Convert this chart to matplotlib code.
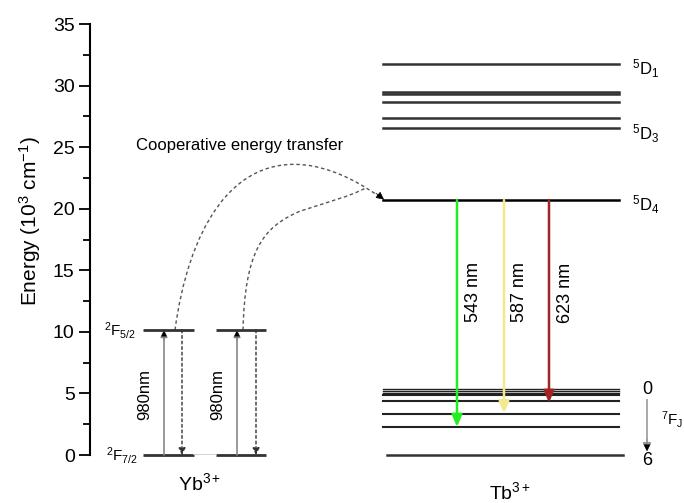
import matplotlib
matplotlib.use('Agg')
import matplotlib.pyplot as plt
from matplotlib.path import Path
from matplotlib.patches import PathPatch, FancyArrowPatch

plt.rcParams['font.family'] = ['Liberation Sans', 'DejaVu Sans']
plt.rcParams['mathtext.fontset'] = 'custom'
plt.rcParams['mathtext.rm'] = 'Liberation Sans'
plt.rcParams['mathtext.it'] = 'Liberation Sans'

# energy levels (10^3 cm^-1)
yb_levels = [0.0, 10.15]
yb_level_names = ['$^2$F$_{7/2}$', '$^2$F$_{5/2}$']
tb_upper = [31.73, 29.45, 29.3, 28.64, 27.39, 26.58]
tb_5d4 = 20.7
tb_7f_cluster = [5.38, 5.22, 5.06]
tb_7f = [4.87, 4.41, 3.33, 2.31]
tb_7f6 = 0.0
tb_upper_names = ['$^5$D$_1$', '$^5$D$_3$', '$^5$D$_4$']
tb_upper_name_y = [31.4, 26.1, 20.3]

# emission lines
em_nm = ['543 nm', '587 nm', '623 nm']
em_end = [2.3, 3.4, 4.25]
em_colors = ['#22ee22', '#f3e88c', '#a32424']

yticks = [0, 5, 10, 15, 20, 25, 30, 35]

fig = plt.figure(figsize=(6.84, 5.03), dpi=100)
ax = fig.add_axes([90 / 684, 48 / 503, 594 / 684, 431 / 503])
ax.set_xlim(90, 684)
ax.set_ylim(0, 35)
for s in ['top', 'right', 'bottom']:
    ax.spines[s].set_visible(False)
ax.spines['left'].set_linewidth(1.5)
ax.set_xticks([])
ax.set_yticks(yticks)
ax.set_yticks([2.5, 7.5, 12.5, 17.5, 22.5, 27.5, 32.5], minor=True)
ax.tick_params(axis='y', which='major', length=8, width=1.3, labelsize=14, pad=3)
ax.tick_params(axis='y', which='minor', length=5, width=1.3)
fig.text(30 / 684, 1 - 221 / 503, 'Energy (10$^3$ cm$^{-1}$)', rotation=90,
         fontsize=15, ha='center', va='center')

# Yb3+ levels (two ions)
yb_pairs = [(143, 194), (216, 266)]
for x0, x1 in yb_pairs:
    for e in yb_levels:
        ax.plot([x0, x1], [e, e], color='#333333', lw=2, solid_capstyle='butt', clip_on=False)
ax.plot([194, 216], [0, 0], color='#cccccc', lw=1.2)
for name, e, xr in zip(yb_level_names, yb_levels, [138, 136]):
    ax.text(xr, e, name, ha='right', va='center', fontsize=11, clip_on=False)

# absorption (solid) and relaxation (dotted) arrows
for xa, xd in [(164, 182), (237, 256)]:
    ax.annotate('', xy=(xa, yb_levels[1]), xytext=(xa, yb_levels[0]),
                arrowprops=dict(arrowstyle='-|>', color='#888888', lw=1.2,
                                mutation_scale=10, shrinkA=0, shrinkB=0))
    ax.annotate('', xy=(xa, yb_levels[1] - 0.05), xytext=(xa, yb_levels[1] - 0.9),
                arrowprops=dict(arrowstyle='-|>', color='black', lw=0.1,
                                mutation_scale=10, shrinkA=0, shrinkB=0))
    ax.annotate('', xy=(xd, yb_levels[0]), xytext=(xd, yb_levels[1]),
                arrowprops=dict(arrowstyle='-|>', color='#333333', lw=1.0, ls=(0, (2, 2)),
                                mutation_scale=10, shrinkA=0, shrinkB=0))
    ax.text(xa - 19, 4.9, '980nm', rotation=90, ha='center', va='center', fontsize=12)

ax.text(200, -2.3, 'Yb$^{3+}$', ha='center', va='center', fontsize=14, clip_on=False)

# cooperative energy transfer curves
verts1 = [(175, 10.15), (188, 18.0), (230, 24.5), (310, 23.5),
          (340, 23.1), (365, 21.8), (381, 20.9)]
codes1 = [Path.MOVETO] + [Path.CURVE4] * 6
ax.add_patch(PathPatch(Path(verts1, codes1), fill=False, ec='#555555', lw=1.0, ls=(0, (2.5, 2))))
verts2 = [(243, 10.15), (245, 16.5), (262, 18.5), (300, 19.8),
          (330, 20.6), (350, 21.0), (366, 21.7)]
codes2 = [Path.MOVETO] + [Path.CURVE4] * 6
ax.add_patch(PathPatch(Path(verts2, codes2), fill=False, ec='#555555', lw=1.0, ls=(0, (2.5, 2))))
ax.add_patch(FancyArrowPatch((376, 21.25), (384, 20.75), arrowstyle='-|>', mutation_scale=12,
                             color='black', lw=0.5, shrinkA=0, shrinkB=0))
ax.text(240, 25.1, 'Cooperative energy transfer', ha='center', va='center', fontsize=12)

# Tb3+ levels
for e in tb_upper:
    ax.plot([383, 619], [e, e], color='#333333', lw=1.8)
ax.plot([383, 619], [tb_5d4, tb_5d4], color='black', lw=1.8)
for e in tb_7f_cluster:
    ax.plot([383, 619], [e, e], color='#222222', lw=1.0)
for e in tb_7f:
    ax.plot([383, 619], [e, e], color='#222222', lw=1.5)
ax.plot([387, 623], [tb_7f6, tb_7f6], color='#333333', lw=1.8, clip_on=False)
for name, e in zip(tb_upper_names, tb_upper_name_y):
    ax.text(632, e, name, ha='left', va='center', fontsize=12)

# emission arrows
for xe, lab, e_end, c in zip([457, 504, 549], em_nm, em_end, em_colors):
    ax.annotate('', xy=(xe, e_end), xytext=(xe, tb_5d4),
                arrowprops=dict(arrowstyle='-|>,head_length=0.5,head_width=0.22', color=c, lw=1.8,
                                mutation_scale=14, shrinkA=0, shrinkB=0))
    ax.text(xe + 16, 13.2, lab, rotation=90, ha='center', va='center', fontsize=13)

# 7F_J labels
ax.text(647, 5.35, '0', ha='center', va='center', fontsize=13)
ax.text(647, -0.45, '6', ha='center', va='center', fontsize=13, clip_on=False)
ax.annotate('', xy=(647, 0.3), xytext=(647, 4.5),
            arrowprops=dict(arrowstyle='-|>', color='#999999', lw=1.2,
                            mutation_scale=12, shrinkA=0, shrinkB=0))
ax.annotate('', xy=(647, 0.3), xytext=(647, 1.3),
            arrowprops=dict(arrowstyle='-|>', color='black', lw=0.1,
                            mutation_scale=12, shrinkA=0, shrinkB=0))
ax.text(661, 2.85, '$^7$F$_J$', ha='left', va='center', fontsize=11)

ax.text(510, -3.0, 'Tb$^{3+}$', ha='center', va='center', fontsize=14, clip_on=False)

fig.savefig('out.png', dpi=100)
